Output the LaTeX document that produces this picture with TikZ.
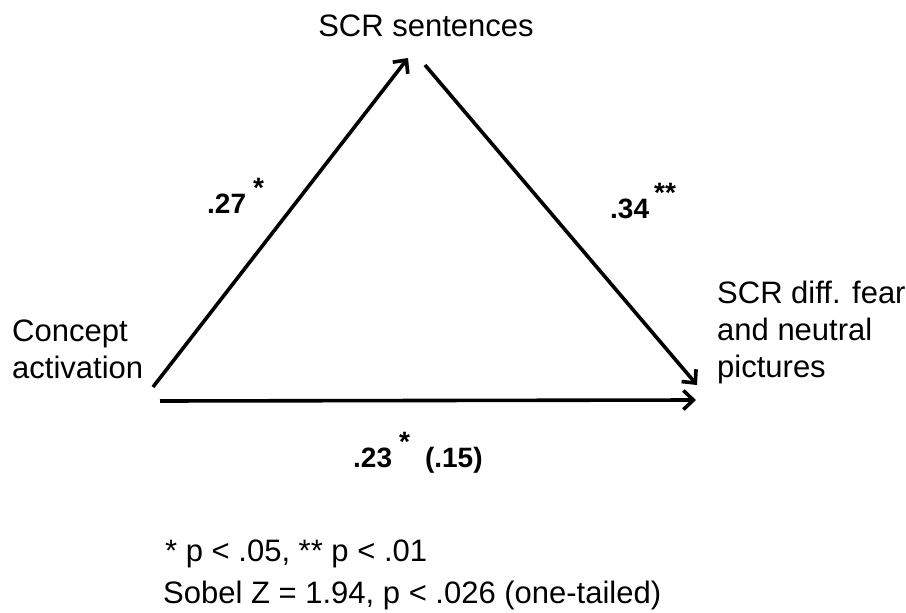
\documentclass[tikz,border=0pt]{standalone}
\usepackage{fontspec}
\setmainfont{Liberation Sans}
\usetikzlibrary{arrows.meta}
\begin{document}
\begin{tikzpicture}[x=1pt,y=-1pt,
  lbl/.style={font=\fontsize{31}{37}\selectfont, inner sep=0pt, align=left},
  coef/.style={font=\fontsize{28}{34}\selectfont\bfseries, inner sep=0pt},
  note/.style={font=\fontsize{31}{37}\selectfont, inner sep=0pt},
  conn/.style={line width=3.6pt, -{Straight Barb[length=10pt,width=19pt,line width=3.6pt]}}]
\useasboundingbox (0,0) rectangle (906,613);
\node[lbl, anchor=base] (s) at (426,36) {SCR sentences};
\node[lbl, anchor=base west] (c) at (12,378) {Concept\\activation};
\node[lbl, anchor=base west] (d) at (717,377) {SCR diff. fear\\and neutral\\pictures};
\coordinate (cA) at (153,387);
\coordinate (cB) at (160,401);
\coordinate (sA) at (408,58);
\coordinate (sB) at (425,65);
\coordinate (dA) at (697,385);
\coordinate (dB) at (696,400);
\draw[conn] (cA) -- (sA);
\draw[conn] (sB) -- (dA);
\draw[conn] (cB) -- (dB);
\node[coef, anchor=base west] (l1) at (207,213) {.27\hspace{7pt}\raisebox{0.55em}{*}};
\node[coef, anchor=base west] (l2) at (610,218) {.34\hspace{5pt}\raisebox{0.55em}{**}};
\node[coef, anchor=base west] (l3) at (353,467) {.23\hspace{7pt}\raisebox{0.55em}{*}\hspace{15pt}(.15)};
\node[note, anchor=base west] (n1) at (165,561) {* p < .05, ** p < .01};
\node[note, anchor=base west] (n2) at (163,603) {Sobel Z = 1.94, p < .026 (one-tailed)};
\end{tikzpicture}
\end{document}
